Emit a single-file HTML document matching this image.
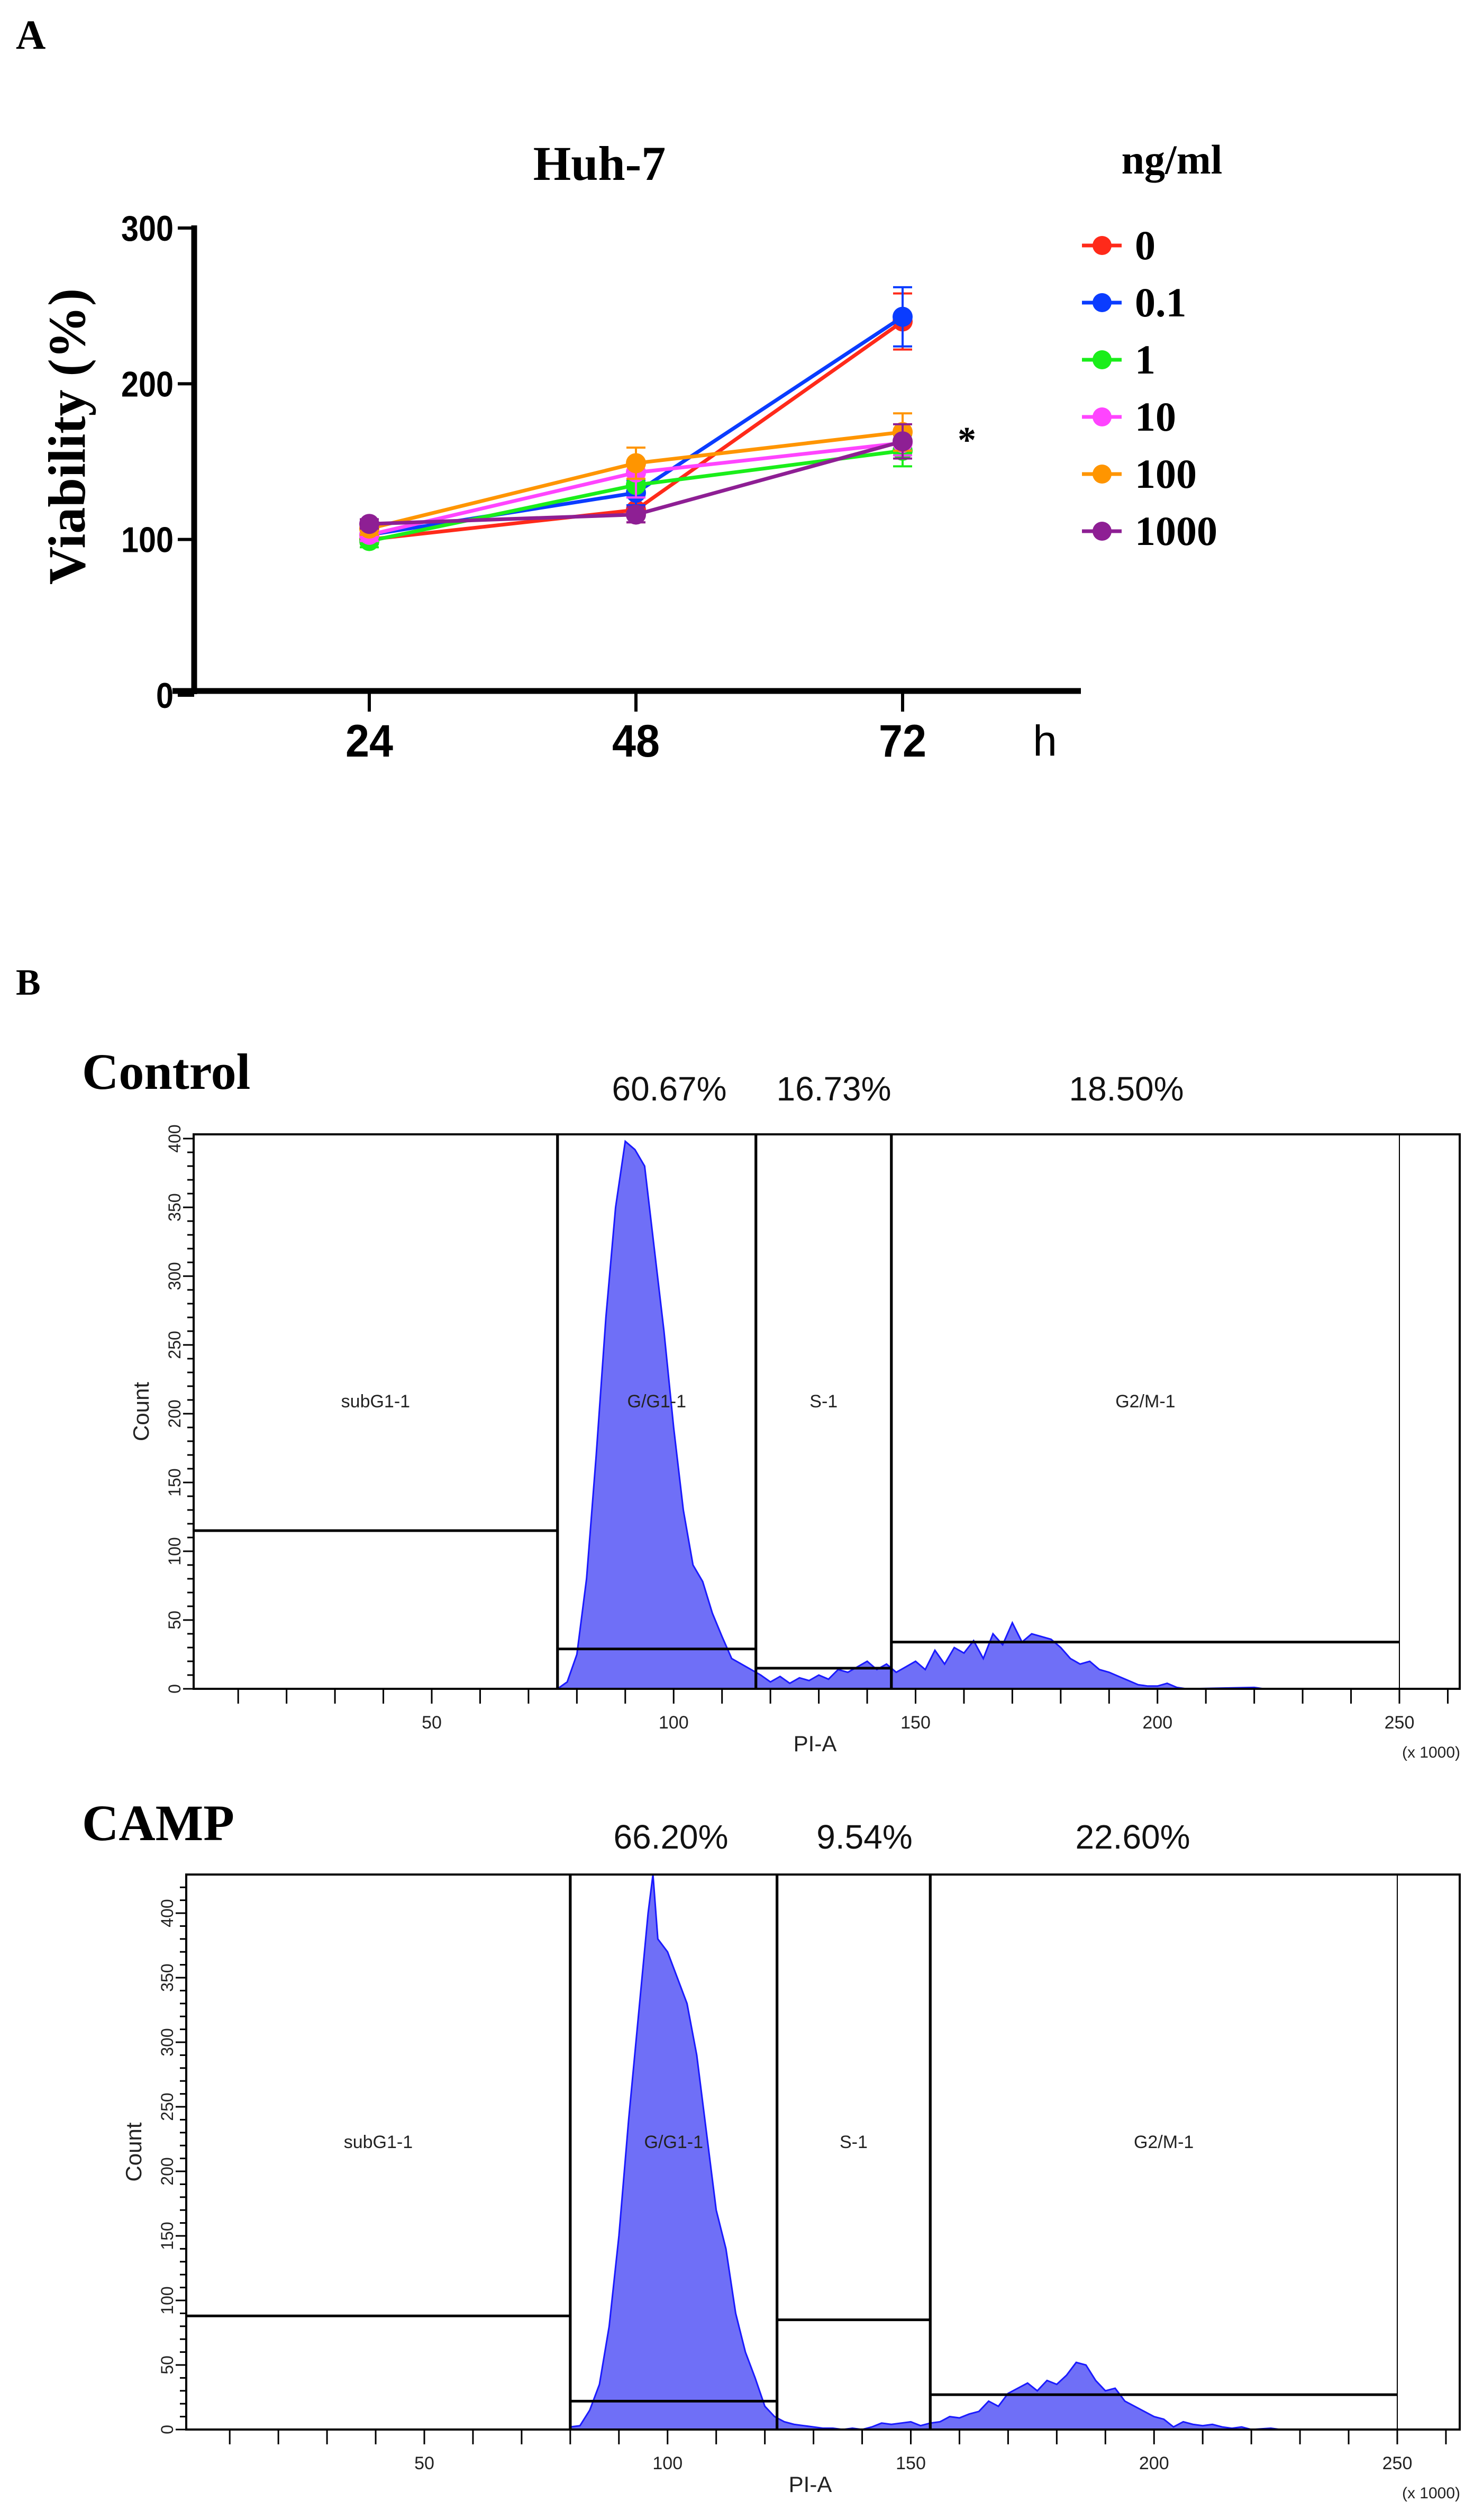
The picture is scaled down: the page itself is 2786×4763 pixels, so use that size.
<!DOCTYPE html>
<html><head><meta charset="utf-8"><style>
html,body{margin:0;padding:0;background:#fff;}
svg{display:block;}
.serif{font-family:"Liberation Serif",serif;font-weight:bold;}
.sans{font-family:"Liberation Sans",sans-serif;}
</style></head><body>
<svg id="fig" width="2786" height="4763" viewBox="0 0 2786 4763" xmlns="http://www.w3.org/2000/svg">
<rect width="2786" height="4763" fill="#fff"/>
<text x="30" y="92" class="serif" font-size="78">A</text>
<text x="1133" y="340" class="serif" font-size="92" text-anchor="middle">Huh-7</text>
<text x="2215" y="328" class="serif" font-size="78" text-anchor="middle">ng/ml</text>
<text transform="translate(160,825) rotate(-90)" class="serif" font-size="100" text-anchor="middle">Viability (%)</text>
<g id="lineChart"></g>
<text x="1810" y="855" class="serif" font-size="70">*</text>
<text x="1975" y="1428" class="sans" font-size="82" text-anchor="middle">h</text>

<text x="30" y="1880" class="serif" font-size="70">B</text>
<text x="155" y="2058" class="serif" font-size="96">Control</text>
<text x="155" y="3478" class="serif" font-size="96">CAMP</text>
<g id="hist1"></g>
<g id="hist2"></g>
</svg>
<script>
const NS='http://www.w3.org/2000/svg';
function mk(parent,tag,attrs,text){const e=document.createElementNS(NS,tag);for(const k in attrs)e.setAttribute(k,attrs[k]);if(text!==undefined)e.textContent=text;parent.appendChild(e);return e;}

// ---- Panel A data ----
const timePoints=[24,48,72];
const doseLabels=['0','0.1','1','10','100','1000'];
const seriesColors=['#ff2a1a','#0a3cff','#1aee1a','#ff44ff','#ff9500','#8e1f94'];
const v0=[100,119,240];
const v01=[103,130,243];
const v1=[99,135,157];
const v10=[103,143,162];
const v100=[107,149,169];
const v1000=[110,116,163];
const e0=[3,8,18];
const e01=[3,8,19];
const e1=[4,8,10];
const e10=[4,16,8];
const e100=[4,10,12];
const e1000=[3,5,11];
const yTicks=[0,100,200,300];

const seriesVals=[v0,v01,v1,v10,v100,v1000];
const seriesErr=[e0,e01,e1,e10,e100,e1000];
const ay=v=>1314-(v/300)*883;
const ax=t=>698+(t-24)*(504/24);
(function(){
 const g=document.getElementById('lineChart');
 let a=mk(g,'line',{x1:367,y1:426,x2:367,y2:1312,stroke:'#000','stroke-width':11});
 
 a=mk(g,'line',{x1:326,y1:1306,x2:2043,y2:1306,stroke:'#000','stroke-width':11});
 
 yTicks.forEach(v=>{
  const y=ay(v);
  let t=mk(g,'line',{x1:336,y1:y,x2:367,y2:y,stroke:'#000','stroke-width':6});
  
  t=mk(g,'text',{x:328,y:y+24,'text-anchor':'end','font-size':68,'font-family':'Liberation Sans,sans-serif','font-weight':'bold','textLength':String(v).length*33,'lengthAdjust':'spacingAndGlyphs'},String(v));
  
 });
 timePoints.forEach(tp=>{
  const x=ax(tp);
  let t=mk(g,'line',{x1:x,y1:1306,x2:x,y2:1345,stroke:'#000','stroke-width':6});
  
  t=mk(g,'text',{x:x,y:1430,'text-anchor':'middle','font-size':86,'font-family':'Liberation Sans,sans-serif','font-weight':'bold','textLength':90,'lengthAdjust':'spacingAndGlyphs'},String(tp));
  
 });
 seriesVals.forEach((vals,i)=>{
  const c=seriesColors[i];
  const sg=mk(g,'g',{});
  
  
  vals.forEach((v,j)=>{
   const x=ax(timePoints[j]),e=seriesErr[i][j];
   const eb=mk(sg,'path',{d:`M${x},${ay(v-e)}V${ay(v+e)}M${x-18},${ay(v-e)}h36M${x-18},${ay(v+e)}h36`,stroke:c,'stroke-width':4,fill:'none'});
   
  });
  const pl=mk(sg,'polyline',{points:vals.map((v,j)=>ax(timePoints[j])+','+ay(v)).join(' '),stroke:c,'stroke-width':7,fill:'none'});
  
  vals.forEach((v,j)=>{
   const p=mk(sg,'circle',{cx:ax(timePoints[j]),cy:ay(v),r:19,fill:c});
   
  });
  const ly=464+i*108;
  const lg=mk(g,'g',{});
  
  mk(lg,'line',{x1:2045,y1:ly,x2:2120,y2:ly,stroke:c,'stroke-width':7});
  mk(lg,'circle',{cx:2083,cy:ly,r:18,fill:c});
  mk(lg,'text',{x:2145,y:ly+26,'font-size':78,'font-family':'Liberation Serif,serif','font-weight':'bold'},doseLabels[i]);
 });
})();

// ---- Panel B data (count per PI-A bin, x1000) ----
const ctrlBins=[76,78,80,82,84,86,88,90,92,94,96,98,100,102,104,106,108,110,112,114,116,118,120,122,124,126,128,130,132,134,136,138,140,142,144,146,148,150,152,154,156,158,160,162,164,166,168,170,172,174,176,178,180,182,184,186,188,190,192,194,196,198,200,202,204,206,220,222];
const ctrlCounts=[0,5,25,80,170,270,350,398,392,380,320,260,190,130,90,78,55,38,22,18,14,10,5,9,4,8,6,10,7,14,12,16,20,14,18,12,16,20,14,28,18,30,26,35,22,40,32,48,34,40,38,36,30,22,18,20,14,12,9,6,3,2,2,4,1,0,1,0];
const campBins=[80,82,84,86,88,90,92,94,96,97,98,100,102,104,106,108,110,112,114,116,118,120,122,124,126,128,130,132,134,136,138,140,142,144,146,148,150,152,154,156,158,160,162,164,166,168,170,172,174,176,178,180,182,184,186,188,190,192,194,196,198,200,202,204,206,208,210,212,214,216,218,220,224,226];
const campCounts=[2,3,15,35,80,150,240,320,400,430,380,370,350,330,290,230,170,140,90,60,40,18,10,6,4,3,2,1,1,0,1,0,2,5,4,5,6,3,5,6,10,9,12,14,22,18,28,32,36,30,38,35,42,52,50,38,30,32,22,18,14,10,8,2,6,4,3,4,2,1,2,0,1,0];
const ctrlGates=[[0,76,115],[76,117,29],[117,145,15],[145,250,34]];
const campGates=[[0,80,88],[80,122.5,22],[122.5,154,85],[154,250,27]];
const ctrlPct=['60.67%','16.73%','18.50%'];
const campPct=['66.20%','9.54%','22.60%'];
const gateNames=['subG1-1','G/G1-1','S-1','G2/M-1'];
const xTickVals=[50,100,150,200,250];

function hist(id,bins,counts,gates,pct,cfg){
 const g=document.getElementById(id);
 const X=v=>cfg.x50+(v-50)*cfg.kx;
 const Y=c=>cfg.y0-c*cfg.ky;
 const top=cfg.top,bot=cfg.y0,L=cfg.left,R=cfg.right;
 let d=`M${X(bins[0])},${bot}`;
 bins.forEach((b,i)=>{d+=`L${X(b)},${Y(counts[i])}`;});
 d+=`L${X(bins[bins.length-1])},${bot}Z`;
 const h=mk(g,'path',{d:d,fill:'#6f6ff7',stroke:'#1a1aff','stroke-width':3});
 
 const fr=mk(g,'rect',{x:L,y:top,width:R-L,height:bot-top,fill:'none',stroke:'#000','stroke-width':4});
 
 const rl=mk(g,'line',{x1:X(250),y1:top,x2:X(250),y2:bot,stroke:'#000','stroke-width':2});
 
 gates.forEach((gt,i)=>{
  const x1=Math.max(X(gt[0]),L),x2=X(gt[1]);
  const gg=mk(g,'g',{});
  
  
  mk(gg,'line',{x1:x2,y1:top,x2:x2,y2:bot,stroke:'#000','stroke-width':i<3?5:2});
  if(i>0)mk(gg,'line',{x1:x1,y1:top,x2:x1,y2:bot,stroke:'#000','stroke-width':5});
  mk(gg,'line',{x1:x1,y1:Y(gt[2]),x2:x2,y2:Y(gt[2]),stroke:'#000','stroke-width':5});
  mk(gg,'text',{x:(x1+x2)/2,y:cfg.labelY,'text-anchor':'middle','font-size':34,'font-family':'Liberation Sans,sans-serif',fill:'#222'},gateNames[i]);
 });
 pct.forEach((p,i)=>{
  const t=mk(g,'text',{x:cfg.pctX[i],y:cfg.pctY,'text-anchor':'middle','font-size':64,'font-family':'Liberation Sans,sans-serif',fill:'#111'},p);
  
 });
 for(let v=10;v<=260;v+=10){
  const tk=mk(g,'line',{x1:X(v),y1:bot,x2:X(v),y2:bot+28,stroke:'#000','stroke-width':3});
  
 }
 xTickVals.forEach(v=>{
  const t=mk(g,'text',{x:X(v),y:bot+75,'text-anchor':'middle','font-size':34,'font-family':'Liberation Sans,sans-serif',fill:'#222'},String(v));
  
 });
 const xt=mk(g,'text',{x:X(150)-190,y:bot+118,'text-anchor':'middle','font-size':42,'font-family':'Liberation Sans,sans-serif',fill:'#222'},'PI-A');
 
 const xs=mk(g,'text',{x:2705,y:bot+130,'text-anchor':'middle','font-size':30,'font-family':'Liberation Sans,sans-serif',fill:'#222'},'(x 1000)');
 
 for(let c=0;c<=cfg.maxC;c+=10){
  const tk=mk(g,'line',{x1:L-(c%50===0?20:12),y1:Y(c),x2:L,y2:Y(c),stroke:'#000','stroke-width':3});
  
  if(c%50===0){
   const t=mk(g,'text',{transform:`translate(${L-25},${Y(c)}) rotate(-90)`,'text-anchor':'middle','font-size':32,'font-family':'Liberation Sans,sans-serif',fill:'#222'},String(c));
   
  }
 }
 const yt=mk(g,'text',{transform:`translate(${L-85},${(top+bot)/2}) rotate(-90)`,'text-anchor':'middle','font-size':42,'font-family':'Liberation Sans,sans-serif',fill:'#222'},'Count');
 
}
hist('hist1',ctrlBins,ctrlCounts,ctrlGates,ctrlPct,{x50:816,kx:9.145,y0:3192,ky:2.6,top:2144,left:366,right:2759,maxC:400,labelY:2660,pctX:[1265,1576,2129],pctY:2080});
hist('hist2',campBins,campCounts,campGates,campPct,{x50:802,kx:9.195,y0:4592,ky:2.44,top:3543,left:352,right:2759,maxC:420,labelY:4060,pctX:[1268,1634,2141],pctY:3494});
</script>
</body></html>
